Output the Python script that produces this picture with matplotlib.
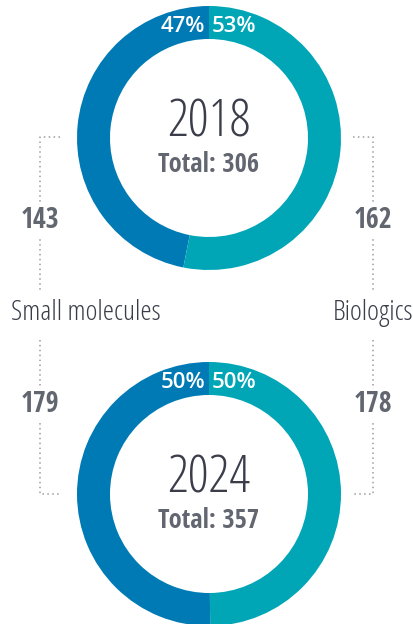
import os
import matplotlib
matplotlib.use("Agg")
import matplotlib.pyplot as plt
from matplotlib import font_manager
from matplotlib.font_manager import FontProperties

years = ["2018", "2024"]
totals = [306, 357]
small_molecules = [143, 179]
biologics = [162, 178]
small_pct = ["47%", "50%"]
bio_pct = ["53%", "50%"]
group_labels = ["Small molecules", "Biologics"]

BLUE = "#007ab5"
TEAL = "#00a6b6"
DARK = "#3b3e4a"
GREY = "#626670"
DOT = "#9a9da3"

files = {os.path.basename(f.fname): f.fname for f in font_manager.fontManager.ttflist}


def font_file(names, fallback_family):
    for n in names:
        if n in files:
            return FontProperties(fname=files[n])
    return FontProperties(family=fallback_family)


LIGHT = font_file(["OpenSans-CondLight.ttf", "RobotoCondensed-Light.ttf"], "DejaVu Sans")
BOLD = font_file(["OpenSans-CondBold.ttf", "RobotoCondensed-Bold.ttf"], "DejaVu Sans")
SEMI = font_file(["OpenSans-Semibold.ttf", "OpenSans-Regular.ttf"], "DejaVu Sans")

W, H = 414, 624
fig = plt.figure(figsize=(W / 100, H / 100), dpi=100)
ax = fig.add_axes([0, 0, 1, 1])

cx = 209
centers_y = [138, 494]  # pixel rows from the top
R, ring = 132, 33

for i, year in enumerate(years):
    cy = H - centers_y[i]
    ax.pie([small_molecules[i], biologics[i]], colors=[BLUE, TEAL],
           startangle=90, counterclock=True, radius=R, center=(cx, cy),
           wedgeprops=dict(width=ring, linewidth=0), frame=True)
    # percent labels at the top of the ring
    ax.text(cx - 4, cy + R - 20, small_pct[i], ha="right", va="center",
            color="white", fontsize=16, fontproperties=SEMI)
    ax.text(cx + 3, cy + R - 20, bio_pct[i], ha="left", va="center",
            color="white", fontsize=16, fontproperties=SEMI)
    # centre texts
    ax.text(cx, cy + 15, year, ha="center", va="center", color=DARK,
            fontsize=37.5, fontproperties=LIGHT)
    ax.text(cx, cy - 27, f"Total: {totals[i]}", ha="center", va="center",
            color=GREY, fontsize=19, fontproperties=BOLD)

# dotted brackets
lx, rx = 40, 373
top_h, mid_top, mid_bot, bot_h = 137, 292, 340, 494
dots = dict(color=DOT, linestyle=(0, (1, 2.2)), linewidth=1.1)
ax.plot([60, lx, lx], [H - top_h, H - top_h, H - mid_top], **dots)
ax.plot([lx, lx, 60], [H - mid_bot, H - bot_h, H - bot_h], **dots)
ax.plot([353, rx, rx], [H - top_h, H - top_h, H - mid_top], **dots)
ax.plot([rx, rx, 353], [H - mid_bot, H - bot_h, H - bot_h], **dots)

box = dict(facecolor="white", edgecolor="none", pad=1.5)
for i in range(2):
    y = H - [221, 405][i]
    ax.text(lx, y, str(small_molecules[i]), ha="center", va="center",
            color=GREY, fontsize=20, fontproperties=BOLD, bbox=box)
    ax.text(rx, y, str(biologics[i]), ha="center", va="center",
            color=GREY, fontsize=20, fontproperties=BOLD, bbox=box)

ax.text(11, H - 313, group_labels[0], ha="left", va="center", color=DARK,
        fontsize=20.5, fontproperties=LIGHT)
ax.text(413, H - 313, group_labels[1], ha="right", va="center", color=DARK,
        fontsize=20.5, fontproperties=LIGHT)

ax.set_xlim(0, W)
ax.set_ylim(0, H)
ax.set_aspect("auto")
ax.axis("off")

fig.savefig("out.png", dpi=100)
